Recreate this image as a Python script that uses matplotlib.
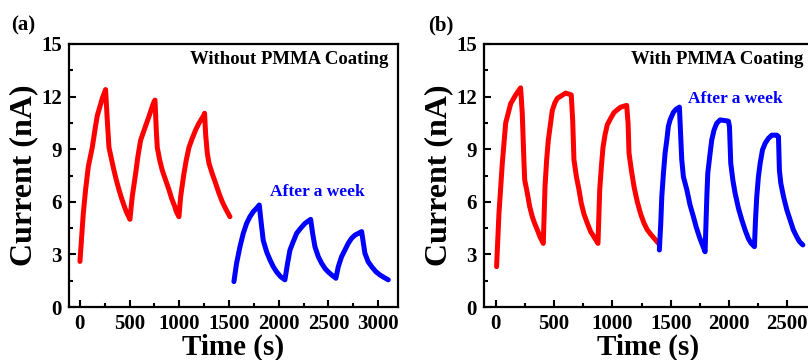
import matplotlib
matplotlib.use('Agg')
from matplotlib import pyplot as plt
from matplotlib.ticker import MultipleLocator

plt.rcParams['font.family'] = ['Liberation Serif', 'DejaVu Serif']
plt.rcParams['font.weight'] = 'bold'

# (a) without PMMA coating - fresh device
a_fresh_t = [0, 34, 57, 84, 124, 151, 174, 201, 225, 258, 275, 292, 319, 342, 366, 392,
             419, 443, 466, 503,
             526, 560, 583, 610, 634, 694, 727, 745, 755, 768, 778, 802, 828, 862, 895,
             922, 956, 969, 996,
             1013, 1046, 1070, 1097, 1124, 1164, 1197, 1248, 1254, 1264, 1281, 1298,
             1331, 1365, 1398, 1432, 1466, 1509]
a_fresh_i = [2.6, 5.35, 6.7, 8.0, 9.1, 10.1, 10.9, 11.43, 11.9, 12.4, 10.67, 9.1, 8.39, 7.8, 7.24, 6.7,
             6.2, 5.8, 5.44, 5.0,
             6.29, 7.6, 8.58, 9.5, 9.9, 10.86, 11.43, 11.7, 11.8, 10.1, 9.1, 8.39, 7.8, 7.24, 6.7,
             6.2, 5.7, 5.44, 5.15,
             6.29, 7.6, 8.39, 9.1, 9.53, 10.1, 10.48, 10.95, 11.05, 9.9, 8.77, 8.2,
             7.6, 7.06, 6.5, 6.0, 5.6, 5.15]
# (a) after a week
a_week_t = [1549, 1576, 1610, 1643, 1677, 1710, 1744, 1777, 1804, 1828, 1844, 1878, 1911,
            1945, 1979, 2019, 2062,
            2089, 2113, 2146, 2180, 2220, 2264, 2321, 2341, 2364, 2398, 2431, 2465, 2498,
            2532, 2575,
            2599, 2632, 2666, 2699, 2733, 2767, 2800, 2834, 2867, 2900, 2935, 2978, 3018,
            3058, 3102]
a_week_i = [1.45, 2.5, 3.44, 4.2, 4.77, 5.15, 5.44, 5.63, 5.82, 4.58, 3.8, 3.15, 2.7,
            2.3, 2.0, 1.73, 1.55,
            2.5, 3.25, 3.73, 4.2, 4.49, 4.77, 5.0, 4.2, 3.44, 2.87, 2.5, 2.2, 2.0,
            1.83, 1.64,
            2.3, 2.87, 3.25, 3.63, 3.92, 4.1, 4.2, 4.3, 3.06, 2.58, 2.3, 2.01, 1.83,
            1.69, 1.55]

# (b) with PMMA coating - fresh device
b_fresh_t = [8, 28, 57, 86, 129, 172, 214, 228, 243, 249, 271, 292, 314, 334, 357, 380, 408,
             423, 437, 451, 485, 506, 528, 600, 648, 660, 671, 692, 714, 734, 757, 786, 814,
             843, 877,
             892, 906, 920, 937, 957, 986, 1015, 1072, 1123, 1135, 1143, 1163, 1186, 1214,
             1243, 1272, 1300, 1323, 1395]
b_fresh_i = [2.3, 5.3, 8.2, 10.5, 11.6, 12.1, 12.5, 11.05, 8.2, 7.24, 6.5, 5.72, 5.15, 4.77, 4.4, 4.0, 3.63,
             6.86, 8.39, 9.5, 11.2, 11.62, 11.9, 12.2, 12.1, 10.67, 8.4, 7.43, 6.7, 5.91, 5.3, 4.77, 4.3,
             4.0, 3.63,
             6.7, 8.0, 9.1, 9.81, 10.4, 10.76, 11.1, 11.4, 11.5, 10.48, 8.77, 7.81, 6.86, 6.0,
             5.3, 4.77, 4.4, 4.2, 3.63]
# (b) after a week
b_week_t = [1403, 1415, 1424, 1438, 1452, 1467, 1480, 1495, 1523, 1546, 1575, 1581, 1595,
            1609, 1638, 1666, 1695, 1718, 1746, 1767, 1795,
            1810, 1818, 1838, 1852, 1872, 1895, 1924, 1967, 1995, 2004, 2015, 2033, 2052,
            2081, 2110, 2138, 2166, 2190, 2218,
            2227, 2238, 2252, 2267, 2287, 2310, 2338, 2367, 2410, 2424, 2432, 2444, 2467,
            2496, 2524, 2552, 2581, 2604, 2633]
b_week_i = [3.25, 4.77, 6.3, 7.63, 8.77, 9.53, 10.3, 10.67, 11.1, 11.28, 11.4, 10.48, 8.4,
            7.43, 6.7, 5.82, 5.15, 4.58, 4.0, 3.63, 3.15,
            6.3, 7.63, 8.77, 9.53, 10.1, 10.48, 10.67, 10.63, 10.6, 10.29, 8.2, 7.24, 6.5,
            5.63, 4.96, 4.39, 3.9, 3.63, 3.44,
            4.96, 6.3, 7.43, 8.2, 8.96, 9.34, 9.62, 9.8, 9.8, 9.72, 7.8, 7.06, 6.3,
            5.53, 4.96, 4.39, 4.0, 3.73, 3.54]

fig = plt.figure(figsize=(8.08, 3.6), dpi=100)
ax1 = fig.add_axes([0.0854, 0.1472, 0.4072, 0.7306])
ax2 = fig.add_axes([0.599, 0.1472, 0.4072, 0.7306])

panels = [
    (ax1, a_fresh_t, a_fresh_i, a_week_t, a_week_i, (-110, 3200),
     'Without PMMA Coating', (2384, 6.58)),
    (ax2, b_fresh_t, b_fresh_i, b_week_t, b_week_i, (-100, 2720),
     'With PMMA Coating', (2057, 11.85)),
]

for ax, ft, fi, wt, wi, xlim, title, week_pos in panels:
    ax.plot(ft, fi, color='#ff0000', linewidth=3.6, solid_capstyle='round',
            solid_joinstyle='round')
    ax.plot(wt, wi, color='#0000ff', linewidth=3.6, solid_capstyle='round',
            solid_joinstyle='round')
    ax.set_xlim(*xlim)
    ax.set_ylim(0, 15)
    ax.xaxis.set_major_locator(MultipleLocator(500))
    ax.xaxis.set_minor_locator(MultipleLocator(250))
    ax.yaxis.set_major_locator(MultipleLocator(3))
    ax.yaxis.set_minor_locator(MultipleLocator(1.5))
    ax.tick_params(which='both', direction='in', top=False, right=False,
                   labelsize=15, width=1.5, pad=5)
    ax.tick_params(which='major', length=5)
    ax.tick_params(which='minor', length=3)
    for s in ax.spines.values():
        s.set_linewidth(1.6)
    for lab in ax.get_xticklabels() + ax.get_yticklabels():
        lab.set_fontweight('bold')
    ax.set_xlabel('Time (s)', fontsize=21, fontweight='bold', labelpad=0)
    ax.set_ylabel('Current (nA)', fontsize=23, fontweight='bold', labelpad=2)
    ax.text(0.97, 0.94, title, transform=ax.transAxes, ha='right', va='center',
            fontsize=13.5, fontweight='bold')
    ax.text(week_pos[0], week_pos[1], 'After a week', ha='center', va='center',
            fontsize=12.5, fontweight='bold', color='#0000ff')

fig.text(23 / 808, 1 - 25 / 360, '(a)', ha='center', va='center',
         fontsize=15, fontweight='bold')
fig.text(441 / 808, 1 - 25 / 360, '(b)', ha='center', va='center',
         fontsize=15, fontweight='bold')

plt.savefig('out.png', dpi=100)
